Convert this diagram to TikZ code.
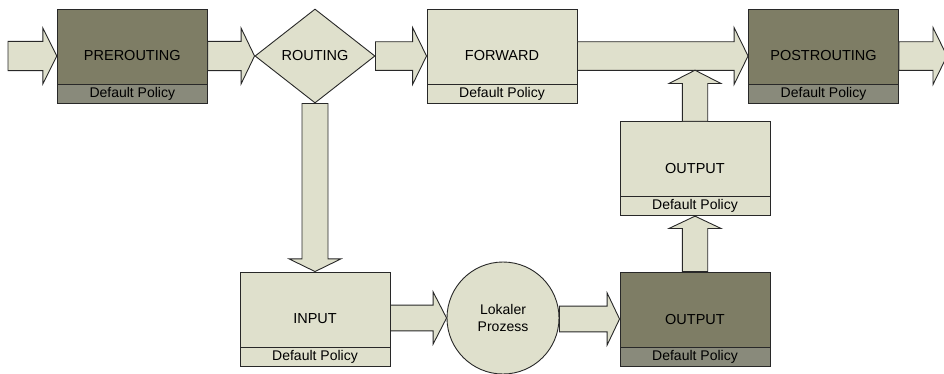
\documentclass[tikz,border=0pt]{standalone}
\usepackage{fontspec}
\setmainfont{Liberation Sans}
\usetikzlibrary{shapes.geometric,calc}

\definecolor{lightf}{RGB}{223,224,204}
\definecolor{darkf}{RGB}{126,125,101}
\definecolor{darkpol}{RGB}{137,138,123}
\definecolor{linec}{RGB}{40,40,40}

\tikzset{
  outline/.style={draw=linec, line width=0.9pt, line join=miter},
  chain/.style={outline, rectangle, minimum width=150pt, minimum height=94pt,
    inner sep=0pt, font=\fontsize{14.5}{16}\selectfont},
  lightbox/.style={chain, fill=lightf},
  darkbox/.style={chain, fill=darkf},
  policy/.style={outline, rectangle, minimum width=150pt, minimum height=19pt,
    inner sep=0pt, font=\fontsize{14}{15}\selectfont},
  lightpol/.style={policy, fill=lightf},
  darkpol/.style={policy, fill=darkpol},
  blk/.style={outline, fill=lightf},
  % horizontal block arrow: shaft half height, head half height, head length
  hblock/.style n args={3}{to path={
    let \p1=(\tikztostart), \p2=(\tikztotarget) in
    (\x1,\y2+#1) -- (\x2-#3,\y2+#1) -- (\x2-#3,\y2+#2) -- (\x2,\y2)
    -- (\x2-#3,\y2-#2) -- (\x2-#3,\y2-#1) -- (\x1,\y2-#1) -- cycle}},
  % vertical block arrow pointing down
  vdown/.style n args={3}{to path={
    let \p1=(\tikztostart), \p2=(\tikztotarget) in
    (\x2-#1,\y1) -- (\x2-#1,\y2+#3) -- (\x2-#2,\y2+#3) -- (\x2,\y2)
    -- (\x2+#2,\y2+#3) -- (\x2+#1,\y2+#3) -- (\x2+#1,\y1) -- cycle}},
  % vertical block arrow pointing up
  vup/.style n args={3}{to path={
    let \p1=(\tikztostart), \p2=(\tikztotarget) in
    (\x2-#1,\y1) -- (\x2-#1,\y2-#3) -- (\x2-#2,\y2-#3) -- (\x2,\y2)
    -- (\x2+#2,\y2-#3) -- (\x2+#1,\y2-#3) -- (\x2+#1,\y1) -- cycle}},
}

\begin{document}
\begin{tikzpicture}[x=1pt,y=-1pt]
\useasboundingbox (0,0) rectangle (944,373);
\clip (0,0) rectangle (944,373);

% chains and decision
\node[darkbox]  (pre)  at (132.3,56) {PREROUTING};
\node[outline, diamond, fill=lightf, minimum width=120pt, minimum height=94pt,
      inner sep=0pt, font=\fontsize{14.5}{16}\selectfont] (rt) at (315,56) {ROUTING};
\node[lightbox] (fwd)  at (502,56)   {FORWARD};
\node[darkbox]  (post) at (823.5,56) {POSTROUTING};
\node[lightbox] (in)   at (315,319)  {INPUT};
\node[outline, circle, fill=lightf, minimum size=112pt, inner sep=0pt,
      align=center, font=\fontsize{14}{17}\selectfont] (lp) at (503,318) {Lokaler\\Prozess};
\node[darkbox]  (outb) at (695,319)  {OUTPUT};
\node[lightbox] (outm) at (695,168.7) {OUTPUT};

% policy strips
\node[darkpol,  anchor=south] (prep)  at (pre.south)  {Default Policy};
\node[lightpol, anchor=south] (fwdp)  at (fwd.south)  {Default Policy};
\node[darkpol,  anchor=south] (postp) at (post.south) {Default Policy};
\node[lightpol, anchor=south] (inp)   at (in.south)   {Default Policy};
\node[darkpol,  anchor=south] (outbp) at (outb.south) {Default Policy};
\node[lightpol, anchor=south] (outmp) at (outm.south) {Default Policy};

% free ends
\coordinate (src)  at (8,56);
\coordinate (sink) at (947,56);
\coordinate (join) at (695,70.2);

% packet flow
\draw[blk] (src)  to[hblock={14.6pt}{28pt}{14pt}] (pre.west);
\draw[blk] (pre.east) to[hblock={14.6pt}{28pt}{13.5pt}] (rt.west);
\draw[blk] (rt.east)  to[hblock={14.3pt}{28.5pt}{14pt}] (fwd.west);
\draw[blk] (fwd.east) to[hblock={14.3pt}{28.5pt}{14pt}] (post.west);
\draw[blk] (post.east) to[hblock={14.3pt}{28.5pt}{14pt}] (sink);
\draw[blk] (rt.south) to[vdown={13pt}{26pt}{12.7pt}] (in.north);
\draw[blk] (in.east)  to[hblock={12.9pt}{26.2pt}{13.5pt}] (lp.west);
\draw[blk] (lp.east)  to[hblock={12.9pt}{26.2pt}{12.5pt}] (outb.west);
\draw[blk] (outb.north) to[vup={12.7pt}{26pt}{12.3pt}] (outm.south);
\draw[blk] (outm.north) to[vup={12.7pt}{26pt}{13.3pt}] (join);
\end{tikzpicture}
\end{document}
